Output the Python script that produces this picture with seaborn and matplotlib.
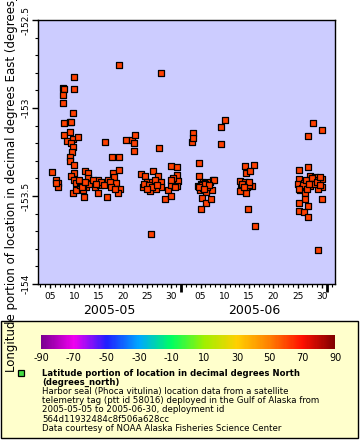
import numpy as np
import pandas as pd
import matplotlib
matplotlib.use("Agg")
import matplotlib.pyplot as plt
import matplotlib.dates as mdates
import matplotlib.transforms as mtransforms
from matplotlib.colors import LinearSegmentedColormap, Normalize
from matplotlib.patches import Rectangle
from matplotlib.lines import Line2D
import seaborn as sns

plt.rcParams["axes.unicode_minus"] = False

# ---- data: time as day number counted from 2005-05-01 (June d = 31 + d) ----
day_of_may = [
    5.41, 6.30, 6.65, 6.65, 6.24,
    7.68, 7.88, 7.68, 7.68, 7.88, 7.88, 8.44,
    9.94, 9.94, 9.74, 9.12, 9.32, 9.12, 9.74, 10.77, 9.39, 9.74, 9.59, 9.06, 9.12,
    9.94, 9.94, 9.39, 9.94, 10.42, 9.74, 10.29,
    11.12, 11.44, 12.14, 12.82, 12.82, 13.50, 12.47, 11.79, 12.00, 14.20, 14.88, 15.23,
    14.88, 16.94, 16.74, 17.97, 18.18, 19.21, 18.65, 19.35, 19.00, 17.77, 19.21,
    10.9, 11.6, 13.1, 13.8, 15.6, 16.2, 17.3, 17.6, 18.4, 12.3, 14.5,
    16.26, 19.14, 20.71, 21.95, 22.50, 22.23, 22.30, 27.79, 27.44, 25.80,
    23.74, 24.56, 26.27, 27.30, 27.86, 27.86, 26.83, 25.59, 24.09, 24.91, 25.94,
    28.68, 29.36, 29.91, 31.09, 31.09, 31.29, 31.09, 29.91, 29.91, 30.39,
    24.4, 25.3, 26.1, 26.6, 27.1, 30.0, 30.7, 25.0,
    34.18, 34.38, 34.38, 35.68, 35.68, 35.53, 35.89, 36.56, 36.91, 37.59, 37.94, 38.62,
    38.77, 38.29, 37.12, 36.23, 37.12, 36.09, 38.15, 36.56, 37.39, 40.21, 40.15, 41.03,
    36.0, 36.3, 37.0, 37.8, 35.7, 36.8,
    45.15, 47.00, 45.36, 46.18, 44.12, 45.15, 44.27, 45.50, 46.53, 45.36, 44.12, 45.71, 47.21,
    44.6, 45.9, 46.0, 44.9,
    56.27, 58.06, 56.27, 56.12, 56.82, 57.30, 56.47, 58.53, 59.56, 60.24, 60.94, 60.94,
    60.12, 58.53, 57.50, 58.06, 57.50, 56.27, 56.27, 57.30, 58.06, 60.94, 59.09, 60.12,
    59.15, 60.94, 58.06,
    57.0, 57.8, 58.9, 59.4, 59.9, 60.5, 60.5, 57.9, 58.3, 56.3,
]
longitude = [
    -153.362, -153.409, -153.424, -153.451, -153.428,
    -152.885, -152.892, -152.924, -152.970, -153.084, -153.153, -153.186,
    -152.824, -152.892, -153.027, -153.078, -153.080, -153.135, -153.174, -153.165, -153.201, -153.220, -153.248, -153.277, -153.299,
    -153.324, -153.368, -153.385, -153.409, -153.428, -153.485, -153.466,
    -153.438, -153.424, -153.356, -153.371, -153.399, -153.424, -153.447, -153.466, -153.504, -153.447, -153.409, -153.438,
    -153.481, -153.409, -153.504, -153.371, -153.394, -153.352, -153.428, -153.462, -153.481, -153.277, -153.277,
    -153.41, -153.45, -153.43, -153.41, -153.42, -153.44, -153.42, -153.45, -153.46, -153.42, -153.43,
    -153.191, -152.756, -153.182, -153.182, -153.152, -153.197, -153.243, -152.799, -153.226, -153.716,
    -153.375, -153.386, -153.356, -153.386, -153.419, -153.447, -153.460, -153.470, -153.447, -153.419, -153.419,
    -153.517, -153.466, -153.330, -153.334, -153.381, -153.415, -153.443, -153.438, -153.500, -153.399,
    -153.43, -153.44, -153.45, -153.41, -153.44, -153.41, -153.45, -153.46,
    -153.191, -153.144, -153.172, -153.311, -153.386, -153.443, -153.466, -153.419, -153.428, -153.424, -153.419, -153.409,
    -153.409, -153.466, -153.479, -153.510, -153.542, -153.574, -153.517, -153.456, -153.447, -153.205, -153.106, -153.068,
    -153.43, -153.44, -153.43, -153.44, -153.45, -153.46,
    -153.330, -153.324, -153.368, -153.356, -153.413, -153.419, -153.456, -153.451, -153.443, -153.481, -153.470, -153.574, -153.670,
    -153.43, -153.44, -153.42, -153.45,
    -153.352, -153.334, -153.403, -153.434, -153.456, -153.424, -153.466, -153.386, -153.394, -153.409, -153.405, -153.451,
    -153.462, -153.443, -153.485, -153.557, -153.519, -153.538, -153.585, -153.589, -153.618, -153.517, -153.419, -153.807,
    -153.084, -153.125, -153.157,
    -153.44, -153.41, -153.40, -153.43, -153.42, -153.39, -153.44, -153.46, -153.43, -153.46,
]

y_ticks = [-154.0, -153.5, -153.0, -152.5]
y_ticklabels = ["-154", "-153.5", "-153", "-152.5"]
month_labels = ["2005-05", "2005-06"]
cbar_ticks = [-90, -70, -50, -30, -10, 10, 30, 50, 70, 90]
cbar_colors = ["#7A0090", "#F000F0", "#2020FF", "#00A8FF", "#00FF60",
               "#A0F000", "#FFD000", "#FF8000", "#FF1000", "#800000"]

ylabel_text = "Longitude portion of location in decimal degrees East (degrees_east)"
legend_title = "Latitude portion of location in decimal degrees North\n(degrees_north)"
legend_body = ("Harbor seal (Phoca vitulina) location data from a satellite\n"
               "telemetry tag (ptt id 58016) deployed in the Gulf of Alaska from\n"
               "2005-05-05 to 2005-06-30, deployment id\n"
               "564d11932484c8f506a628cc\n"
               "Data courtesy of NOAA Alaska Fisheries Science Center")

origin = pd.Timestamp("2005-05-01")
df = pd.DataFrame({
    "time": origin + pd.to_timedelta(np.array(day_of_may) - 1.0, unit="D"),
    "lon": longitude,
})

W, H = 360, 440
fig = plt.figure(figsize=(W / 100, H / 100), dpi=100)
fig.patch.set_facecolor("white")

# legend box background (drawn first, behind everything)
fig.patches.append(Rectangle((1 / W, 2 / H), 357 / W, 117 / H, transform=fig.transFigure,
                             facecolor="#FFFFCC", edgecolor="black", linewidth=1.0, zorder=-5))

ax = fig.add_axes([37.5 / W, 1 - 284 / H, (335 - 37.5) / W, (284 - 20) / H])
ax.set_facecolor("#CCCCFF")

sns.scatterplot(data=df, x="time", y="lon", ax=ax, marker="s", s=17,
                color="#FF4000", edgecolor="black", linewidth=0.9, legend=False, zorder=3)

ax.set_xlim(origin + pd.Timedelta(days=1.43), origin + pd.Timedelta(days=62.68))
ax.set_ylim(-154.0, -152.5)

# x ticks
ax.xaxis.set_major_locator(mdates.DayLocator(bymonthday=[5, 10, 15, 20, 25, 30]))
ax.xaxis.set_major_formatter(mdates.DateFormatter("%d"))
ax.xaxis.set_minor_locator(mdates.DayLocator())
ax.tick_params(axis="x", which="major", length=3, width=1, labelsize=6.5, pad=3)
ax.tick_params(axis="x", which="minor", length=2, width=0.8)

# month boundary ticks
sec = ax.secondary_xaxis("bottom")
sec.set_xticks([pd.Timestamp("2005-06-01"), pd.Timestamp("2005-07-01")])
sec.set_xticklabels(["", ""])
sec.tick_params(length=6, width=2)
sec.spines["bottom"].set_visible(False)

# month labels
trans = mtransforms.blended_transform_factory(ax.transData, ax.transAxes)
month_centers = [origin + pd.Timedelta(days=16.2), pd.Timestamp("2005-06-16")]
for lab, c in zip(month_labels, month_centers):
    ax.text(mdates.date2num(c), -26.5 / 264, lab, transform=trans,
            ha="center", va="center", fontsize=9)

# y ticks
ax.set_yticks(y_ticks)
ax.set_yticklabels(y_ticklabels, rotation=90, va="center")
ax.set_yticks(np.arange(-154.0, -152.45, 0.1), minor=True)
ax.tick_params(axis="y", which="major", length=4, width=1, labelsize=6.5, pad=1)
ax.tick_params(axis="y", which="minor", length=2.5, width=0.8)
ax.set_xlabel("")
ax.set_ylabel("")
for s in ax.spines.values():
    s.set_color("black")
    s.set_linewidth(1.0)

fig.text(12 / W, 1 - 372 / H, ylabel_text, rotation=90, ha="center", va="bottom",
         fontsize=8.5)

# colorbar
cmap = LinearSegmentedColormap.from_list("rb", cbar_colors)
cax = fig.add_axes([41 / W, 1 - 349 / H, 294 / W, 14 / H])
cax.set_zorder(2)
sm = plt.cm.ScalarMappable(norm=Normalize(-90, 90), cmap=cmap)
cb = fig.colorbar(sm, cax=cax, orientation="horizontal", ticks=cbar_ticks)
cb.ax.set_xticklabels([str(t) for t in cbar_ticks])
cb.outline.set_visible(False)
cb.ax.tick_params(length=0, labelsize=7, pad=3)

# legend entry
fig.add_artist(Line2D([21 / W], [1 - 372.7 / H], transform=fig.transFigure, marker="s",
                      markersize=4.5, markerfacecolor="#44DD44", markeredgecolor="black",
                      markeredgewidth=0.9, linestyle="none"))
fig.text(42.5 / W, 1 - 368.5 / H, legend_title, fontsize=6.1, fontweight="bold",
         ha="left", va="top", linespacing=1.05)
fig.text(42.5 / W, 1 - 386.5 / H, legend_body, fontsize=6.2,
         ha="left", va="top", linespacing=1.07)

fig.savefig("out.png", dpi=100)
